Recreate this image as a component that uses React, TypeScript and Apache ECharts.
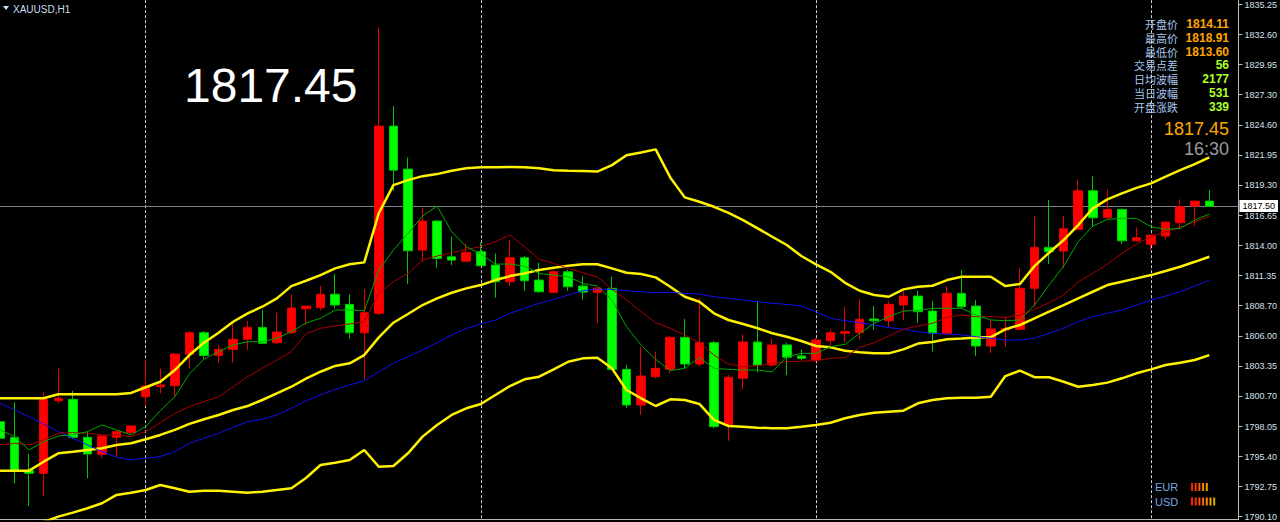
import React, { useEffect, useRef } from "react";
import * as echarts from "echarts";

// ---------- data ----------
const symbolTitle = "XAUUSD,H1";
const bigPrice = "1817.45";
const bidPrice = "1817.45";
const timeLeft = "16:30";
const currentPrice = 1817.5;

// 84 hourly bars + 2 empty slots on the right (chart shift)
const categories = Array.from({ length: 86 }, (_, i) => "H" + i);

// [open, close, low, high]
const candles = [
  [1798.48, 1797.02, 1796.78, 1798.8],
  [1797.1, 1794.16, 1793.05, 1800.19],
  [1794.16, 1793.93, 1791.05, 1795.63],
  [1793.93, 1800.45, 1791.93, 1801.07],
  [1800.33, 1800.54, 1800.1, 1803.18],
  [1800.45, 1797.1, 1796.95, 1801.21],
  [1797.1, 1795.63, 1793.49, 1797.6],
  [1795.61, 1797.22, 1795.28, 1797.31],
  [1797.1, 1797.6, 1795.39, 1797.75],
  [1797.51, 1798.1, 1797.31, 1798.16],
  [1800.68, 1801.62, 1799.86, 1803.91],
  [1801.56, 1801.71, 1800.98, 1803.18],
  [1801.65, 1804.44, 1800.68, 1804.5],
  [1804.42, 1806.32, 1803.18, 1806.47],
  [1806.32, 1804.32, 1804.0, 1806.47],
  [1804.32, 1804.85, 1803.67, 1805.24],
  [1804.85, 1805.74, 1803.67, 1807.15],
  [1805.74, 1806.79, 1804.79, 1807.35],
  [1806.79, 1805.39, 1805.3, 1808.32],
  [1805.44, 1806.38, 1805.3, 1808.09],
  [1806.32, 1808.5, 1806.2, 1809.73],
  [1808.43, 1808.67, 1807.0, 1808.7],
  [1808.52, 1809.71, 1808.26, 1810.43],
  [1809.71, 1808.76, 1808.47, 1811.49],
  [1808.82, 1806.32, 1805.83, 1809.71],
  [1806.32, 1808.08, 1802.21, 1810.17],
  [1808.03, 1824.53, 1807.88, 1833.22],
  [1824.53, 1820.65, 1818.83, 1826.29],
  [1820.74, 1813.54, 1810.61, 1821.77],
  [1813.6, 1816.16, 1812.57, 1817.33],
  [1816.16, 1812.87, 1812.05, 1816.25],
  [1813.01, 1812.72, 1812.28, 1814.78],
  [1812.63, 1813.4, 1812.54, 1814.13],
  [1813.46, 1812.22, 1812.19, 1814.25],
  [1812.28, 1810.81, 1809.4, 1813.31],
  [1810.81, 1812.93, 1810.43, 1814.49],
  [1812.93, 1810.9, 1810.02, 1813.08],
  [1810.96, 1809.93, 1809.84, 1812.49],
  [1809.88, 1811.69, 1809.82, 1811.9],
  [1811.69, 1810.37, 1810.02, 1811.84],
  [1810.43, 1809.9, 1809.26, 1811.31],
  [1809.88, 1810.26, 1807.15, 1810.29],
  [1810.23, 1803.09, 1803.03, 1811.25],
  [1803.09, 1799.95, 1799.66, 1803.47],
  [1799.95, 1802.5, 1799.07, 1805.09],
  [1802.44, 1803.18, 1802.3, 1804.65],
  [1803.09, 1805.91, 1802.74, 1806.03],
  [1805.91, 1803.56, 1803.18, 1807.53],
  [1803.56, 1805.44, 1803.35, 1809.38],
  [1805.44, 1798.04, 1797.92, 1805.59],
  [1798.19, 1802.39, 1796.8, 1802.59],
  [1802.3, 1805.5, 1801.33, 1806.18],
  [1805.5, 1803.47, 1802.82, 1809.11],
  [1803.47, 1805.24, 1803.32, 1805.83],
  [1805.24, 1804.16, 1802.59, 1805.44],
  [1804.27, 1804.06, 1803.91, 1804.85],
  [1803.91, 1805.68, 1803.74, 1805.86],
  [1805.62, 1806.32, 1805.15, 1806.62],
  [1806.27, 1806.41, 1805.5, 1808.61],
  [1806.32, 1807.5, 1805.74, 1809.29],
  [1807.53, 1807.38, 1806.56, 1808.67],
  [1807.38, 1808.82, 1806.85, 1809.11],
  [1808.76, 1809.55, 1807.44, 1810.02],
  [1809.55, 1808.17, 1807.2, 1810.02],
  [1808.23, 1806.27, 1804.66, 1809.11],
  [1806.27, 1809.79, 1806.12, 1810.43],
  [1809.79, 1808.61, 1808.47, 1811.84],
  [1808.67, 1805.15, 1804.27, 1809.2],
  [1805.15, 1806.65, 1804.53, 1807.44],
  [1806.56, 1806.7, 1805.09, 1807.73],
  [1806.62, 1810.23, 1806.56, 1811.99],
  [1810.23, 1813.84, 1808.61, 1816.6],
  [1813.84, 1813.46, 1812.37, 1818.01],
  [1813.52, 1815.48, 1812.0, 1816.6],
  [1815.43, 1818.83, 1815.37, 1819.77],
  [1818.83, 1816.45, 1815.66, 1820.12],
  [1816.45, 1817.19, 1816.42, 1818.95],
  [1817.19, 1814.42, 1814.13, 1817.28],
  [1814.42, 1814.69, 1814.35, 1815.6],
  [1814.11, 1814.93, 1813.6, 1814.93],
  [1814.84, 1816.07, 1814.55, 1816.07],
  [1816.01, 1817.42, 1815.52, 1818.07],
  [1817.48, 1817.92, 1815.72, 1817.92],
  [1817.92, 1817.45, 1817.45, 1818.91],
];

const bbUpper = [
  1800.54, 1800.54, 1800.54, 1800.54, 1800.89, 1800.89, 1800.89, 1800.89, 1800.89, 1801.01,
  1801.51, 1802.0, 1803.03, 1804.35, 1805.44, 1806.32, 1807.29, 1808.03, 1808.61, 1809.35,
  1810.43, 1810.9, 1811.4, 1811.99, 1812.35, 1812.52, 1816.86, 1819.33, 1819.77, 1820.12,
  1820.3, 1820.6, 1820.81, 1820.9, 1820.9, 1820.92, 1820.9, 1820.81, 1820.65, 1820.6,
  1820.57, 1820.52, 1821.09, 1821.97, 1822.21, 1822.48, 1820.01, 1818.25, 1817.86, 1817.42,
  1816.89, 1816.25, 1815.52, 1814.78, 1814.05, 1813.08, 1812.35, 1811.69, 1810.72, 1810.02,
  1809.64, 1809.49, 1810.14, 1810.37, 1810.46, 1810.96, 1811.25, 1811.25, 1811.25, 1810.43,
  1810.61, 1812.19, 1813.37, 1814.49, 1815.81, 1817.28, 1818.07, 1818.6, 1819.09, 1819.48,
  1820.07, 1820.65, 1821.18, 1821.77,
];

const bbMiddle = [
  1794.16, 1794.16, 1794.16, 1794.95, 1795.69, 1795.83, 1795.98, 1796.13, 1796.43, 1796.57,
  1796.93, 1797.31, 1797.75, 1798.28, 1798.69, 1799.07, 1799.51, 1799.86, 1800.39, 1800.98,
  1801.56, 1802.28, 1802.88, 1803.39, 1803.62, 1804.35, 1805.91, 1807.2, 1807.97, 1808.76,
  1809.35, 1809.84, 1810.23, 1810.52, 1810.96, 1811.31, 1811.55, 1811.84, 1812.05, 1812.22,
  1812.35, 1812.35, 1811.99, 1811.6, 1811.49, 1811.2, 1810.37, 1809.49, 1809.05, 1808.03,
  1807.44, 1807.09, 1806.71, 1806.27, 1805.97, 1805.59, 1805.15, 1805.03, 1804.73, 1804.59,
  1804.5, 1804.5, 1804.85, 1805.36, 1805.5, 1805.74, 1805.8, 1805.89, 1805.94, 1806.62,
  1807.0, 1807.59, 1808.17, 1808.76, 1809.35, 1809.93, 1810.52, 1810.81, 1811.11, 1811.4,
  1811.76, 1812.13, 1812.57, 1813.02,
];

const bbLower = [
  1788.32, 1788.76, 1789.2, 1789.64, 1790.11, 1790.46, 1790.85, 1791.29, 1792.02, 1792.22,
  1792.46, 1792.9, 1792.61, 1792.31, 1792.4, 1792.4, 1792.31, 1792.22, 1792.31, 1792.46,
  1792.61, 1793.51, 1794.66, 1794.86, 1795.1, 1795.98, 1794.51, 1794.57, 1795.69, 1797.16,
  1798.19, 1799.07, 1799.66, 1800.04, 1800.83, 1801.62, 1802.21, 1802.44, 1803.09, 1803.76,
  1804.06, 1804.11, 1803.18, 1801.27, 1800.54, 1799.86, 1800.45, 1800.39, 1800.04, 1798.63,
  1798.1, 1798.04, 1797.95, 1797.9, 1797.9, 1798.04, 1798.19, 1798.39, 1798.78, 1799.07,
  1799.27, 1799.36, 1799.45, 1800.1, 1800.39, 1800.54, 1800.59, 1800.59, 1800.68, 1802.5,
  1802.98, 1802.4, 1802.4, 1802.0, 1801.56, 1801.71, 1801.92, 1802.3, 1802.74, 1803.09,
  1803.47, 1803.67, 1803.91, 1804.35,
];

const maBlue = [
  1800.1, 1799.51, 1798.92, 1798.28, 1797.6, 1797.02, 1796.43, 1795.84, 1795.35, 1795.11,
  1795.26, 1795.4, 1795.84, 1796.57, 1797.02, 1797.46, 1797.99, 1798.48, 1798.69, 1799.07,
  1799.66, 1800.33, 1800.83, 1801.33, 1801.71, 1802.09, 1802.88, 1803.62, 1804.21, 1804.79,
  1805.44, 1806.12, 1806.7, 1807.09, 1807.44, 1808.03, 1808.47, 1808.91, 1809.26, 1809.64,
  1810.02, 1810.17, 1810.14, 1810.02, 1809.93, 1809.84, 1809.88, 1809.79, 1809.73, 1809.49,
  1809.35, 1809.2, 1809.05, 1808.91, 1808.82, 1808.67, 1808.17, 1807.59, 1807.38, 1807.2,
  1807.0, 1806.77, 1806.62, 1806.41, 1806.27, 1806.2, 1806.12, 1805.97, 1805.83, 1805.68,
  1805.68, 1805.83, 1806.27, 1806.71, 1807.29, 1807.73, 1808.03, 1808.32, 1808.76, 1809.2,
  1809.55, 1809.93, 1810.43, 1810.96,
];

const maRed = [
  1796.43, 1796.57, 1796.43, 1796.87, 1797.46, 1797.51, 1797.46, 1797.31, 1797.31, 1797.16,
  1797.6, 1798.39, 1799.22, 1799.8, 1800.24, 1800.68, 1801.56, 1802.44, 1803.18, 1803.91,
  1804.65, 1806.23, 1806.71, 1806.91, 1807.09, 1807.29, 1809.79, 1810.81, 1811.55, 1812.72,
  1813.08, 1813.37, 1813.67, 1813.9, 1814.34, 1814.93, 1813.9, 1812.79, 1812.43, 1811.99,
  1811.6, 1811.25, 1810.14, 1809.2, 1808.17, 1807.2, 1806.71, 1806.12, 1805.44, 1804.35,
  1803.56, 1803.32, 1803.41, 1803.62, 1803.76, 1803.82, 1803.85, 1804.06, 1804.15, 1805.03,
  1805.44, 1806.03, 1806.62, 1806.91, 1807.15, 1807.68, 1807.88, 1807.73, 1807.73, 1807.68,
  1807.88, 1808.38, 1808.96, 1809.64, 1810.81, 1811.55, 1812.37, 1813.31, 1814.13, 1814.78,
  1815.22, 1815.61, 1816.1, 1816.6,
];

const maGreen = [
  1797.75, 1797.16, 1795.98, 1796.72, 1797.22, 1797.31, 1797.6, 1798.19, 1797.75, 1797.31,
  1798.04, 1799.45, 1800.68, 1802.68, 1803.98, 1804.65, 1805.24, 1805.53, 1805.53, 1805.83,
  1806.41, 1807.18, 1807.59, 1808.32, 1808.32, 1808.26, 1811.84, 1813.6, 1815.08, 1816.6,
  1817.48, 1815.22, 1813.9, 1813.25, 1812.37, 1812.37, 1812.19, 1811.55, 1811.4, 1811.25,
  1810.67, 1810.43, 1809.2, 1806.85, 1805.24, 1803.98, 1802.98, 1803.18, 1804.15, 1803.18,
  1803.09, 1803.03, 1803.03, 1802.88, 1804.2, 1804.5, 1804.5, 1805.09, 1805.3, 1806.27,
  1807.15, 1807.73, 1808.23, 1808.29, 1808.47, 1808.47, 1808.47, 1807.88, 1807.44, 1807.38,
  1807.44, 1808.76, 1810.52, 1812.19, 1814.34, 1815.72, 1816.31, 1816.4, 1816.4, 1815.66,
  1815.43, 1815.52, 1816.25, 1816.78,
];

const yTicks = [
  1790.1, 1792.75, 1795.4, 1798.05, 1800.7, 1803.35, 1806.0, 1808.7, 1811.35, 1814.0,
  1816.65, 1819.3, 1821.95, 1824.6, 1827.3, 1829.95, 1832.6, 1835.25,
];

const infoLabels = ["开盘价", "最高价", "最低价", "交易点差", "日均波幅", "当日波幅", "开盘涨跌"];
const infoValues = ["1814.11", "1818.91", "1813.60", "56", "2177", "531", "339"];
const infoValueColors = ["#FFA500", "#FFA500", "#FFA500", "#ADFF2F", "#ADFF2F", "#ADFF2F", "#ADFF2F"];

const currencyNames = ["EUR", "USD"];
const currencyBars = [
  ["#ff2400", "#ff3c00", "#ff6000", "#ff8400", "#e8a000"],
  ["#ff2400", "#ff3000", "#ff4c00", "#ff6a00", "#ff8800", "#eea000", "#d8a800"],
];

// ---------- component ----------
export default function App() {
  const ref = useRef<HTMLDivElement>(null);

  useEffect(() => {
    document.body.style.margin = "0";
    const chart = echarts.init(ref.current!, null, { renderer: "svg" });

    const lineSeries = (name: string, data: number[], color: string, width: number) => ({
      name,
      type: "line",
      data,
      showSymbol: false,
      symbol: "none",
      smooth: false,
      silent: true,
      lineStyle: { color, width },
      z: 3,
    });

    const graphic: any[] = [
      {
        type: "polygon",
        shape: { points: [[3, 6], [9, 6], [6, 10]] },
        style: { fill: "#d0e0f0" },
      },
      {
        type: "text",
        x: 13,
        y: 9,
        style: {
          text: symbolTitle,
          fill: "#c8dcf0",
          font: '10px "Liberation Sans", sans-serif',
          verticalAlign: "middle",
        },
      },
      {
        type: "text",
        x: 184,
        y: 85,
        style: {
          text: bigPrice,
          fill: "#ffffff",
          font: '48px "Liberation Sans", sans-serif',
          verticalAlign: "middle",
        },
      },
      {
        type: "text",
        x: 1229,
        y: 129,
        style: {
          text: bidPrice,
          fill: "#FFA500",
          font: '18px "Liberation Sans", sans-serif',
          align: "right",
          verticalAlign: "middle",
        },
      },
      {
        type: "text",
        x: 1229,
        y: 149,
        style: {
          text: timeLeft,
          fill: "#9a9a9a",
          font: '18px "Liberation Sans", sans-serif',
          align: "right",
          verticalAlign: "middle",
        },
      },
    ];

    infoLabels.forEach((lab, k) => {
      const y = 24 + 13.8 * k;
      graphic.push({
        type: "text",
        x: 1178,
        y,
        style: {
          text: lab,
          fill: "#a6c6ee",
          font: '11px "Noto Sans CJK SC", sans-serif',
          align: "right",
          verticalAlign: "middle",
        },
      });
      graphic.push({
        type: "text",
        x: 1229,
        y,
        style: {
          text: infoValues[k],
          fill: infoValueColors[k],
          font: 'bold 12px "Liberation Sans", sans-serif',
          align: "right",
          verticalAlign: "middle",
        },
      });
    });

    currencyNames.forEach((nm, r) => {
      const y = 487 + 14.5 * r;
      graphic.push({
        type: "text",
        x: 1155,
        y,
        style: {
          text: nm,
          fill: "#78a8e0",
          font: '11px "Liberation Sans", sans-serif',
          verticalAlign: "middle",
        },
      });
      currencyBars[r].forEach((c, j) => {
        graphic.push({
          type: "rect",
          shape: { x: 1191 + j * 3.7, y: y - 4, width: 2, height: 8 },
          style: { fill: c },
        });
      });
    });

    chart.setOption({
      animation: false,
      backgroundColor: "#000000",
      grid: { left: 0, right: 34, top: 0, bottom: 3, containLabel: false },
      xAxis: {
        type: "category",
        data: categories,
        boundaryGap: false,
        axisLine: { show: true, lineStyle: { color: "#b8b8b8", width: 1 } },
        axisTick: { show: false },
        axisLabel: { show: false },
        splitLine: {
          show: true,
          interval: (index: number) => index >= 10 && (index - 10) % 23 === 0,
          lineStyle: { color: "#d0d0d0", type: [3, 2], width: 1 },
        },
      },
      yAxis: {
        type: "value",
        position: "right",
        min: 1789.9,
        max: 1835.63,
        scale: true,
        axisLine: { show: true, lineStyle: { color: "#c0c0c0", width: 1 } },
        axisTick: {
          show: true,
          length: 4,
          inside: false,
          customValues: yTicks,
          lineStyle: { color: "#c0c0c0" },
        },
        axisLabel: {
          show: true,
          customValues: yTicks,
          margin: 6,
          color: "#d4e0ee",
          fontSize: 9,
          fontFamily: '"Liberation Sans", sans-serif',
          formatter: (v: number) => v.toFixed(2),
        },
        splitLine: { show: false },
      },
      graphic,
      series: [
        {
          name: "XAUUSD",
          type: "candlestick",
          data: candles,
          barWidth: 9,
          silent: true,
          z: 2,
          itemStyle: {
            color: "#FF0000",
            color0: "#00FF00",
            borderColor: "#E80000",
            borderColor0: "#00C800",
            borderWidth: 1,
          },
          markLine: {
            silent: true,
            symbol: ["none", "none"],
            lineStyle: { color: "#7a828c", type: "solid", width: 1 },
            label: {
              show: true,
              position: "end",
              distance: 1,
              formatter: () => currentPrice.toFixed(2),
              backgroundColor: "#ffffff",
              color: "#000000",
              fontSize: 9,
              fontFamily: '"Liberation Sans", sans-serif',
              padding: [2, 3, 1, 3],
            },
            data: [{ yAxis: currentPrice }],
            z: 1,
          },
        },
        lineSeries("BB Upper", bbUpper, "#FFF200", 2.5),
        lineSeries("BB Middle", bbMiddle, "#FFF200", 2.5),
        lineSeries("BB Lower", bbLower, "#FFF200", 2.5),
        lineSeries("MA Blue", maBlue, "#1010F0", 1),
        lineSeries("MA Red", maRed, "#A80000", 1),
        lineSeries("MA Green", maGreen, "#00A800", 1),
      ],
    });

    return () => chart.dispose();
  }, []);

  return (
    <div
      ref={ref}
      style={{ position: "fixed", left: 0, top: 0, width: 1280, height: 522, background: "#000" }}
    />
  );
}
